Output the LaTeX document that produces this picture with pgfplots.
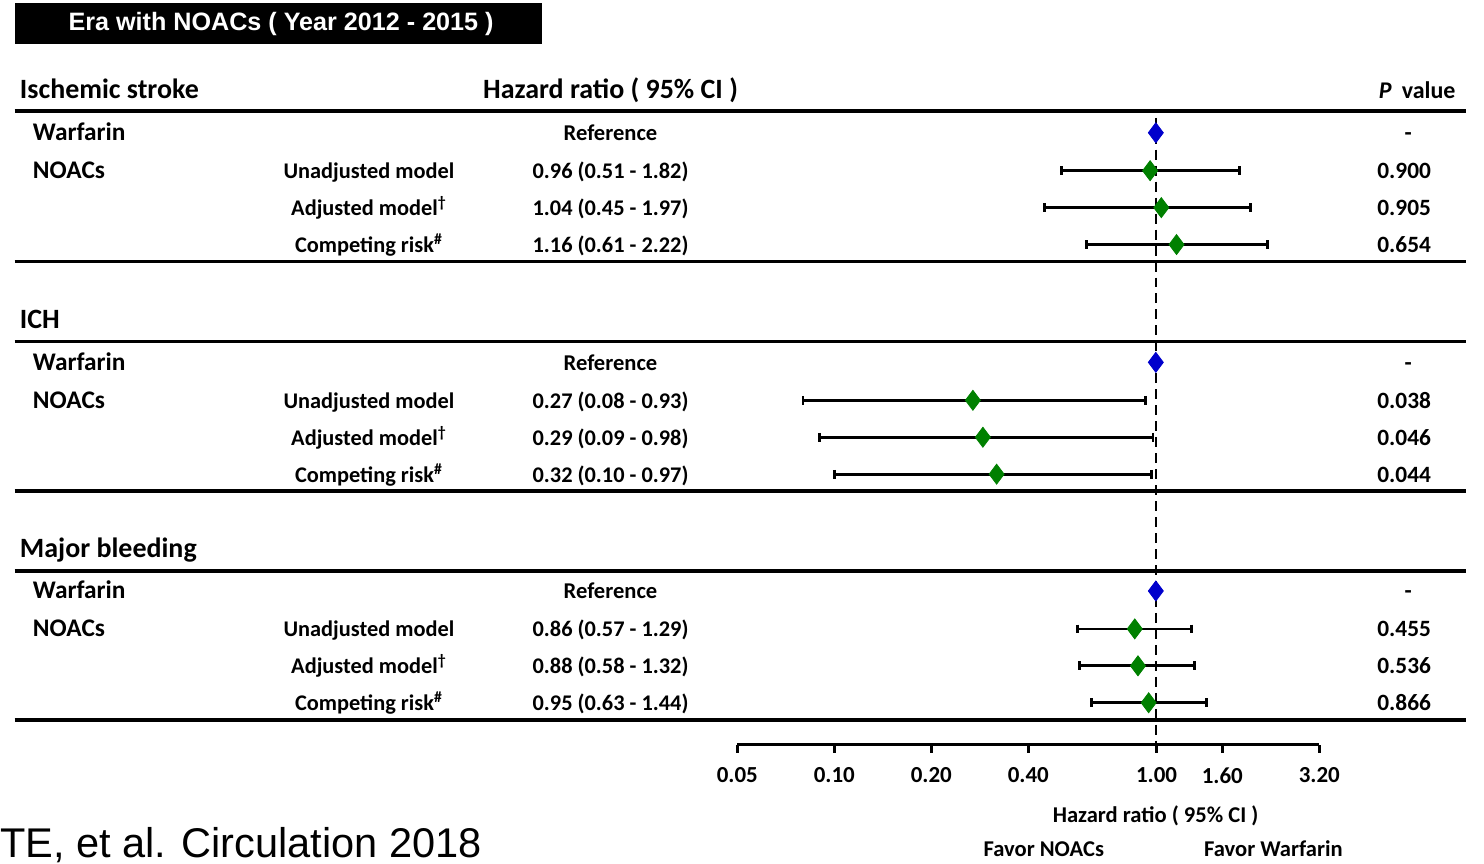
\documentclass[border=0pt]{standalone}
\usepackage{pgfplots}
\pgfplotsset{compat=1.18}
\usepackage{fontspec}
\setmainfont{Carlito}
\newfontfamily\arial{Liberation Sans}
\newcommand\fs[1]{\fontsize{#1}{#1}\selectfont}
\definecolor{mkgreen}{RGB}{0,128,0}
\definecolor{mkblue}{RGB}{0,0,204}
\begin{document}
\begin{tikzpicture}
\begin{scope}[x=0.5pt,y=0.5pt]
\path[use as bounding box] (0,0) rectangle (1484,862);
% title box
\fill[black] (12,818) rectangle (540,859);
\node[anchor=base,white,font=\arial\bfseries\fs{12.6}] at (279,831) {Era with NOACs ( Year 2012 - 2015 )};
% rules
\foreach \yy in {751,600,520,370,290,141} \draw[line width=1.9pt] (12,\yy) -- (1466,\yy);
\end{scope}

\begin{axis}[at={(0pt,0pt)}, anchor=south west, scale only axis, width=742pt, height=431pt,
  xmode=log, xmin=2.5993e-4, xmax=10.478, ymin=0, ymax=862, axis lines=none, clip=false]
\addplot[black, line width=1.2pt, dash pattern=on 5pt off 3pt] coordinates {(1,744) (1,110)};
% confidence intervals
\addplot[black,line width=1.4pt,mark=|,mark size=2.2pt] coordinates {(0.51,691) (1.82,691)};
\addplot[black,line width=1.4pt,mark=|,mark size=2.2pt] coordinates {(0.45,654) (1.97,654)};
\addplot[black,line width=1.4pt,mark=|,mark size=2.2pt] coordinates {(0.61,617) (2.22,617)};
\addplot[black,line width=1.4pt,mark=|,mark size=2.2pt] coordinates {(0.08,461) (0.93,461)};
\addplot[black,line width=1.4pt,mark=|,mark size=2.2pt] coordinates {(0.09,424) (0.98,424)};
\addplot[black,line width=1.4pt,mark=|,mark size=2.2pt] coordinates {(0.10,387) (0.97,387)};
\addplot[black,line width=1.4pt,mark=|,mark size=2.2pt] coordinates {(0.57,232) (1.29,232)};
\addplot[black,line width=1.4pt,mark=|,mark size=2.2pt] coordinates {(0.58,195) (1.32,195)};
\addplot[black,line width=1.4pt,mark=|,mark size=2.2pt] coordinates {(0.63,158) (1.44,158)};
% point estimates
\addplot[only marks, mark=diamond*, mark size=5pt, color=mkgreen] coordinates {(0.96,691) (1.04,654) (1.16,617) (0.27,461) (0.29,424) (0.32,387) (0.86,232) (0.88,195) (0.95,158)};
\addplot[only marks, mark=diamond*, mark size=5pt, color=mkblue] coordinates {(1,729) (1,499) (1,270)};
\end{axis}

\begin{axis}[at={(368pt,58pt)}, anchor=south west, scale only axis, width=291.5pt, height=20pt,
  xmode=log, xmin=0.05, xmax=3.2, ymin=0, ymax=1,
  axis x line=bottom, axis y line=none, x axis line style={-,line width=1.5pt},
  xtick={0.05,0.1,0.2,0.4,1,1.6,3.2},
  xticklabels={0.05,0.10,0.20,0.40,1.00,1.60,3.20},
  xtick align=outside, major tick length=4pt, xtick style={line width=1.5pt,black},
  xticklabel shift=4pt,
  xminorticks=false, xticklabel style={font=\bfseries\fs{11.5}}]
\addplot[draw=none] coordinates {(1,0.5)};
\end{axis}

\begin{scope}[x=0.5pt,y=0.5pt]
% headers
\node[anchor=base west,inner sep=0pt,font=\bfseries\fs{14}] at (17,763) {Ischemic stroke};
\node[anchor=base,font=\bfseries\fs{14}] at (609,763) {Hazard ratio ( 95\% CI )};
\node[anchor=base,font=\bfseries\fs{12}] at (1417,763) {\textit{P}\hspace{0.2em} value};
\node[anchor=base west,inner sep=0pt,font=\bfseries\fs{14}] at (17,533) {ICH};
\node[anchor=base west,inner sep=0pt,font=\bfseries\fs{14}] at (17,304) {Major bleeding};

% section rows
\foreach \a/\b/\c/\d/\na/\nb/\nc/\pa/\pb/\pc in {
  721/683/646/609/{0.96 (0.51 - 1.82)}/{1.04 (0.45 - 1.97)}/{1.16 (0.61 - 2.22)}/0.900/0.905/0.654,
  491/453/416/379/{0.27 (0.08 - 0.93)}/{0.29 (0.09 - 0.98)}/{0.32 (0.10 - 0.97)}/0.038/0.046/0.044,
  262/224/187/150/{0.86 (0.57 - 1.29)}/{0.88 (0.58 - 1.32)}/{0.95 (0.63 - 1.44)}/0.455/0.536/0.866} {
  \node[anchor=base west,inner sep=0pt,font=\bfseries\fs{12.7}] at (30,\a) {Warfarin};
  \node[anchor=base west,inner sep=0pt,font=\bfseries\fs{12.7}] at (30,\b) {NOACs};
  \node[anchor=base,font=\bfseries\fs{11.3}] at (609,\a) {Reference};
  \node[anchor=base,font=\bfseries\fs{11.2}] at (367,\b) {Unadjusted model};
  \node[anchor=base,font=\bfseries\fs{11.2}] at (367,\c) {Adjusted model\textsuperscript{†}};
  \node[anchor=base,font=\bfseries\fs{11.2}] at (367,\d) {Competing risk\textsuperscript{\#}};
  \node[anchor=base,font=\bfseries\fs{11.2}] at (609,\b) {\na};
  \node[anchor=base,font=\bfseries\fs{11.2}] at (609,\c) {\nb};
  \node[anchor=base,font=\bfseries\fs{11.2}] at (609,\d) {\nc};
  \node[anchor=base,font=\bfseries\fs{11.7}] at (1408,\a) {-};
  \node[anchor=base,font=\bfseries\fs{11.7}] at (1404,\b) {\pa};
  \node[anchor=base,font=\bfseries\fs{11.7}] at (1404,\c) {\pb};
  \node[anchor=base,font=\bfseries\fs{11.7}] at (1404,\d) {\pc};
}

% bottom labels
\node[anchor=base,font=\bfseries\fs{11.3}] at (1155,38) {Hazard ratio ( 95\% CI )};
\node[anchor=base,font=\bfseries\fs{11.3}] at (1043,4) {Favor NOACs};
\node[anchor=base,font=\bfseries\fs{11.3}] at (1273,4) {Favor Warfarin};
\node[anchor=base west,inner sep=0pt,font=\arial\fs{20.8}] at (-3,3) {TE, et al. Circulation 2018};
\end{scope}
\end{tikzpicture}
\end{document}
